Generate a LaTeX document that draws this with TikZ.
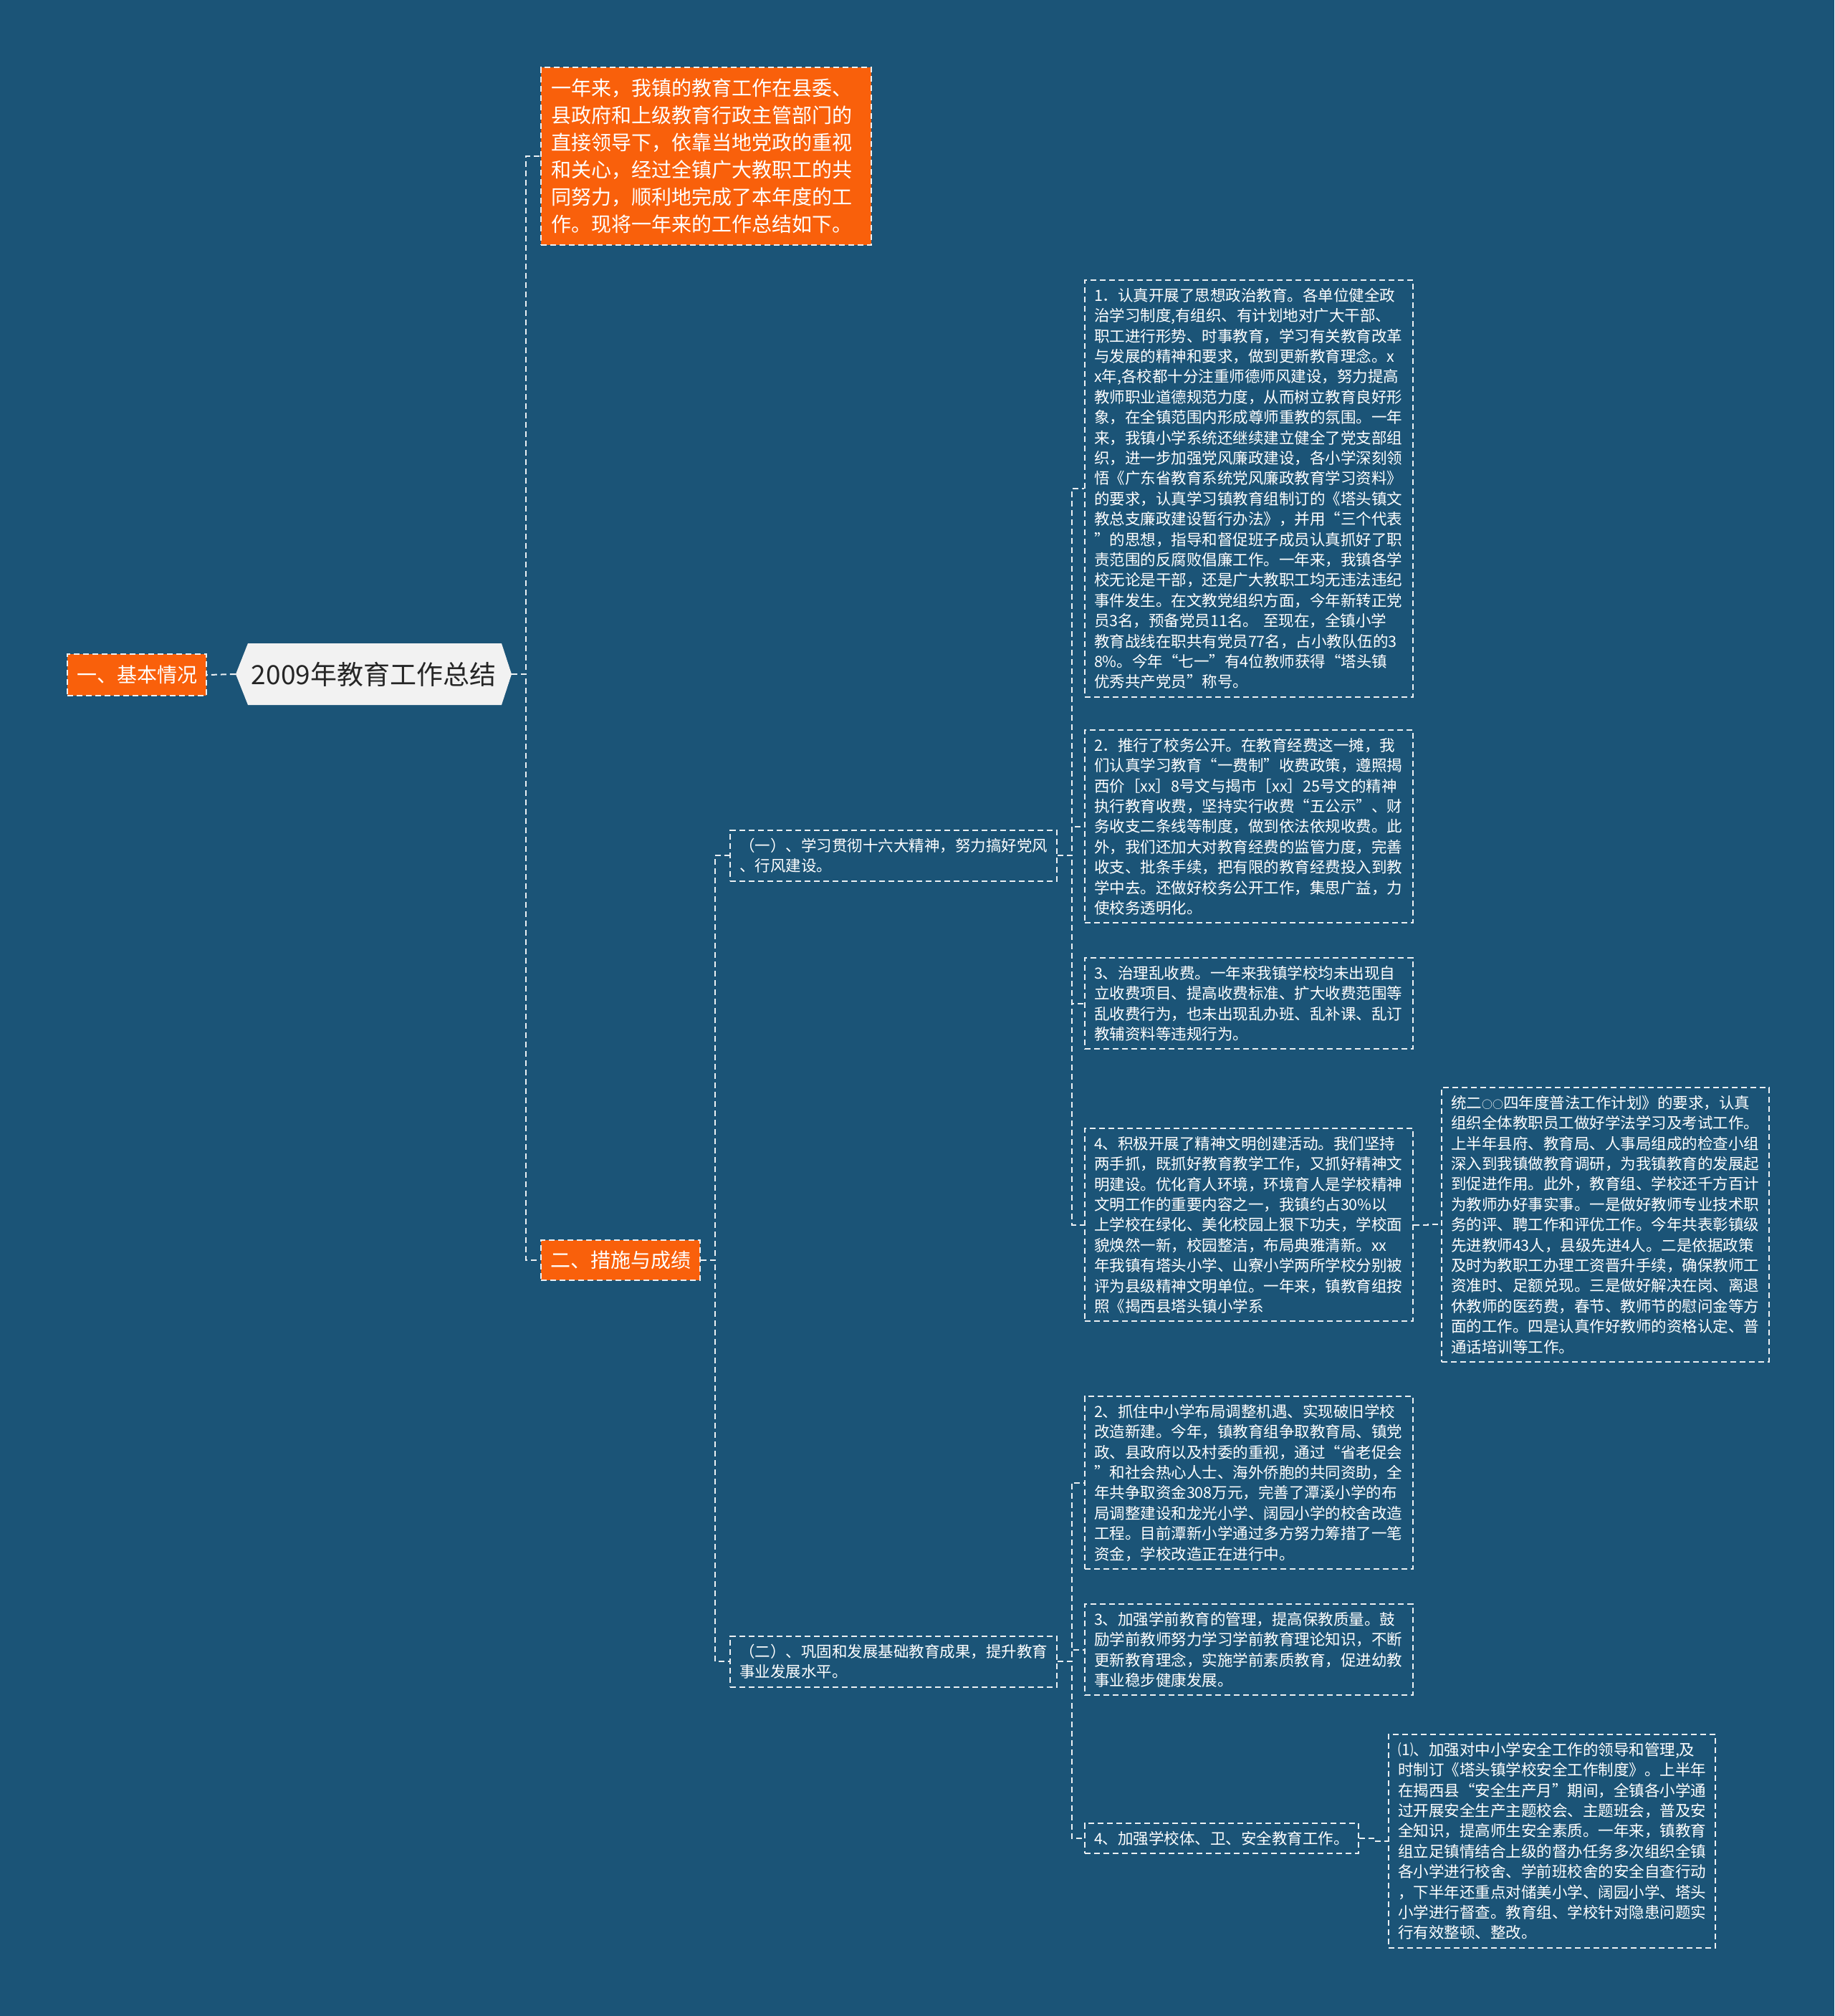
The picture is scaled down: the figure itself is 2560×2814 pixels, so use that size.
\documentclass[tikz,border=0pt]{standalone}
\usepackage{fontspec}
\setmainfont{Noto Sans CJK SC}
\definecolor{bgc}{RGB}{27,84,119}
\definecolor{orangec}{RGB}{249,96,11}
\definecolor{linec}{RGB}{236,240,243}
\definecolor{rootc}{RGB}{242,242,242}
\newcommand{\smallo}{{\fontsize{15}{28}\selectfont ○○}}
\tikzset{
  conn/.style={draw=linec, line width=2pt, dash pattern=on 8pt off 5pt},
  box/.style={draw=linec, line width=2pt, dash pattern=on 8pt off 5pt, text=white, align=left,
    inner xsep=13pt, inner ysep=11pt, anchor=north west, font=\fontsize{21.5}{28.4}\selectfont},
  obox/.style={box, fill=orangec, font=\fontsize{28}{38}\selectfont},
}
\begin{document}
\begin{tikzpicture}[x=1pt,y=-1pt]
\fill[bgc] (0,0) rectangle (2560,2814);
\useasboundingbox (0,0) rectangle (2560,2814);

% root
\fill[rootc] (346,898) -- (700,898) -- (714,941) -- (700,984) -- (346,984) -- (329,941) -- cycle;
\node[font=\fontsize{37}{44}\selectfont, text=black!85, minimum width=385pt, minimum height=86pt, inner sep=0pt] (root) at (521.5,941) {2009年教育工作总结};

\node[obox, anchor=west, inner ysep=16pt] (ji) at (93,942) {一、基本情况};
\node[obox, text width=433pt, inner xsep=14pt, inner ysep=16pt] (intro) at (754,93) {一年来，我镇的教育工作在县委、\\县政府和上级教育行政主管部门的\\直接领导下，依靠当地党政的重视\\和关心，经过全镇广大教职工的共\\同努力，顺利地完成了本年度的工\\作。现将一年来的工作总结如下。};
\node[obox, anchor=west, inner ysep=15pt] (cs) at (754,1759) {二、措施与成绩};

\node[box, text width=430pt] (s1) at (1018,1158) {（一）、学习贯彻十六大精神，努力搞好党风\\、行风建设。};
\node[box, text width=430pt] (s2) at (1018,2283) {（二）、巩固和发展基础教育成果，提升教育\\事业发展水平。};

\node[box, text width=432pt] (i1) at (1513,390) {1．认真开展了思想政治教育。各单位健全政\\治学习制度,有组织、有计划地对广大干部、\\职工进行形势、时事教育，学习有关教育改革\\与发展的精神和要求，做到更新教育理念。x\\x年,各校都十分注重师德师风建设，努力提高\\教师职业道德规范力度，从而树立教育良好形\\象，在全镇范围内形成尊师重教的氛围。一年\\来，我镇小学系统还继续建立健全了党支部组\\织，进一步加强党风廉政建设，各小学深刻领\\悟《广东省教育系统党风廉政教育学习资料》\\的要求，认真学习镇教育组制订的《塔头镇文\\教总支廉政建设暂行办法》，并用“三个代表\\”的思想，指导和督促班子成员认真抓好了职\\责范围的反腐败倡廉工作。一年来，我镇各学\\校无论是干部，还是广大教职工均无违法违纪\\事件发生。在文教党组织方面，今年新转正党\\员3名，预备党员11名。 至现在，全镇小学\\教育战线在职共有党员77名，占小教队伍的3\\8\%。今年“七一”有4位教师获得“塔头镇\\优秀共产党员”称号。};

\node[box, text width=432pt] (i2) at (1513,1018) {2．推行了校务公开。在教育经费这一摊，我\\们认真学习教育“一费制”收费政策，遵照揭\\西价［xx］8号文与揭市［xx］25号文的精神\\执行教育收费，坚持实行收费“五公示”、财\\务收支二条线等制度，做到依法依规收费。此\\外，我们还加大对教育经费的监管力度，完善\\收支、批条手续，把有限的教育经费投入到教\\学中去。还做好校务公开工作，集思广益，力\\使校务透明化。};

\node[box, text width=432pt] (i3) at (1513,1336) {3、治理乱收费。一年来我镇学校均未出现自\\立收费项目、提高收费标准、扩大收费范围等\\乱收费行为，也未出现乱办班、乱补课、乱订\\教辅资料等违规行为。};

\node[box, text width=432pt] (i4) at (1513,1574) {4、积极开展了精神文明创建活动。我们坚持\\两手抓，既抓好教育教学工作，又抓好精神文\\明建设。优化育人环境，环境育人是学校精神\\文明工作的重要内容之一，我镇约占30\%以\\上学校在绿化、美化校园上狠下功夫，学校面\\貌焕然一新，校园整洁，布局典雅清新。xx\\年我镇有塔头小学、山寮小学两所学校分别被\\评为县级精神文明单位。一年来，镇教育组按\\照《揭西县塔头镇小学系};

\node[box, text width=431pt] (i4c) at (2011,1517) {统二\smallo 四年度普法工作计划》的要求，认真\\组织全体教职员工做好学法学习及考试工作。\\上半年县府、教育局、人事局组成的检查小组\\深入到我镇做教育调研，为我镇教育的发展起\\到促进作用。此外，教育组、学校还千方百计\\为教师办好事实事。一是做好教师专业技术职\\务的评、聘工作和评优工作。今年共表彰镇级\\先进教师43人，县级先进4人。二是依据政策\\及时为教职工办理工资晋升手续，确保教师工\\资准时、足额兑现。三是做好解决在岗、离退\\休教师的医药费，春节、教师节的慰问金等方\\面的工作。四是认真作好教师的资格认定、普\\通话培训等工作。};

\node[box, text width=432pt] (j2) at (1513,1948) {2、抓住中小学布局调整机遇、实现破旧学校\\改造新建。今年，镇教育组争取教育局、镇党\\政、县政府以及村委的重视，通过“省老促会\\”和社会热心人士、海外侨胞的共同资助，全\\年共争取资金308万元，完善了潭溪小学的布\\局调整建设和龙光小学、阔园小学的校舍改造\\工程。目前潭新小学通过多方努力筹措了一笔\\资金，学校改造正在进行中。};

\node[box, text width=432pt] (j3) at (1513,2238) {3、加强学前教育的管理，提高保教质量。鼓\\励学前教师努力学习学前教育理论知识，不断\\更新教育理念，实施学前素质教育，促进幼教\\事业稳步健康发展。};

\node[box] (j4) at (1513,2544) {4、加强学校体、卫、安全教育工作。};

\node[box, text width=430pt] (j4c) at (1937,2420) {⑴、加强对中小学安全工作的领导和管理,及\\时制订《塔头镇学校安全工作制度》。上半年\\在揭西县“安全生产月”期间，全镇各小学通\\过开展安全生产主题校会、主题班会，普及安\\全知识，提高师生安全素质。一年来，镇教育\\组立足镇情结合上级的督办任务多次组织全镇\\各小学进行校舍、学前班校舍的安全自查行动\\，下半年还重点对储美小学、阔园小学、塔头\\小学进行督查。教育组、学校针对隐患问题实\\行有效整顿、整改。};

% connectors
\draw[conn] (root.west) -- (ji.east);
\draw[conn] (root.east) -- ++(20,0) |- (intro.west);
\draw[conn] (root.east) -- ++(20,0) |- (cs.west);
\draw[conn] (cs.east) -- ++(20,0) |- (s1.west);
\draw[conn] (cs.east) -- ++(20,0) |- (s2.west);
\draw[conn] (s1.east) -- ++(20,0) |- (i1.west);
\draw[conn] (s1.east) -- ++(20,0) |- (i2.west);
\draw[conn] (s1.east) -- ++(20,0) |- (i3.west);
\draw[conn] (s1.east) -- ++(20,0) |- (i4.west);
\draw[conn] (i4.east) -- ++(20,0) |- (i4c.west);
\draw[conn] (s2.east) -- ++(20,0) |- (j2.west);
\draw[conn] (s2.east) -- ++(20,0) |- (j3.west);
\draw[conn] (s2.east) -- ++(20,0) |- (j4.west);
\draw[conn] (j4.east) -- ++(20,0) |- (j4c.west);
\end{tikzpicture}
\end{document}
